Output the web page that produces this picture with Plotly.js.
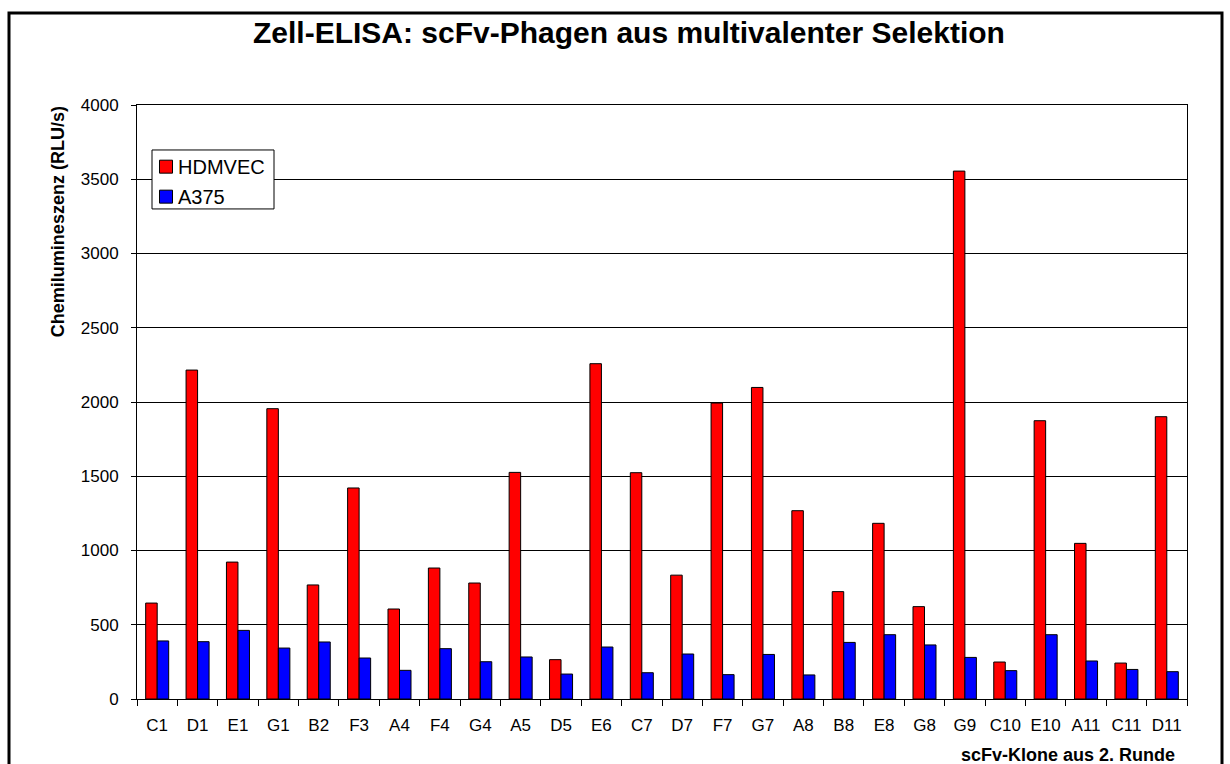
<!DOCTYPE html>
<html>
<head>
<meta charset="utf-8">
<script src="https://cdn.plot.ly/plotly-3.0.1.min.js"></script>
<style>
  html, body { margin: 0; padding: 0; background: #ffffff; }
  #chart { width: 1230px; height: 764px; }
</style>
</head>
<body>
<div id="chart"></div>
<script>
// ---- data ----
const clones = ["C1","D1","E1","G1","B2","F3","A4","F4","G4","A5","D5","E6","C7","D7","F7","G7","A8","B8","E8","G8","G9","C10","E10","A11","C11","D11"];
const hdmvec = [646,2215,922,1955,768,1421,606,882,781,1526,265,2258,1524,834,1993,2098,1268,723,1183,622,3555,249,1874,1048,242,1901];
const a375   = [391,386,462,343,384,276,193,339,251,283,168,350,177,303,164,300,162,381,433,364,280,191,433,256,199,184];
const yTicks = [0,500,1000,1500,2000,2500,3000,3500,4000];

const seriesNames = ["HDMVEC","A375"];
const seriesColors = ["#FF0000","#0000FF"];
const chartTitle = "Zell-ELISA: scFv-Phagen aus multivalenter Selektion";
const yTitle = "Chemilumineszenz (RLU/s)";
const xTitle = "scFv-Klone aus 2. Runde";

// ---- layout geometry ----
const W = 1230, H = 764;
const L = 137, R = 1187, T = 105, B = 699.3;
const pw = R - L, ph = B - T;
const px = x => (x - L) / pw;
const py = y => (B - y) / ph;
const FONT = "Liberation Sans, Arial, Helvetica, sans-serif";

const traces = [
  { type: "bar", name: seriesNames[0], x: clones, y: hdmvec, showlegend: false,
    marker: { color: seriesColors[0], line: { color: "#000000", width: 1 } } },
  { type: "bar", name: seriesNames[1], x: clones, y: a375, showlegend: false,
    marker: { color: seriesColors[1], line: { color: "#000000", width: 1 } } }
];

// manual legend (box, swatches, labels)
const legBox = { x0: 152, x1: 274, y0: 150, y1: 209 };
const rowY = [166.7, 196.7];
const shapes = [
  { type: "rect", xref: "paper", yref: "paper", layer: "below",
    x0: px(9), x1: px(1222), y0: py(790), y1: py(13),
    line: { color: "#000000", width: 3 }, fillcolor: "rgba(0,0,0,0)" },
  { type: "rect", xref: "paper", yref: "paper", layer: "above",
    x0: px(legBox.x0), x1: px(legBox.x1), y0: py(legBox.y1), y1: py(legBox.y0),
    line: { color: "#000000", width: 1 }, fillcolor: "#ffffff" }
];
const annotations = [
  { text: "<b>" + chartTitle + "</b>", xref: "paper", yref: "paper",
    x: px(629), y: py(32.5), xanchor: "center", yanchor: "middle", showarrow: false,
    font: { family: FONT, size: 30, color: "#000000" } },
  { text: "<b>" + yTitle + "</b>", xref: "paper", yref: "paper",
    x: px(57.5), y: py(221.7), xanchor: "center", yanchor: "middle", textangle: -90, showarrow: false,
    font: { family: FONT, size: 18, color: "#000000" } },
  { text: "<b>" + xTitle + "</b>", xref: "paper", yref: "paper",
    x: px(1177), y: py(755), xanchor: "right", yanchor: "middle", showarrow: false,
    font: { family: FONT, size: 18, color: "#000000" } }
];
seriesNames.forEach((nm, i) => {
  shapes.push({ type: "rect", xref: "paper", yref: "paper", layer: "above",
    x0: px(159.5), x1: px(172.5), y0: py(rowY[i] + 6.5), y1: py(rowY[i] - 6.5),
    line: { color: "#000000", width: 1 }, fillcolor: seriesColors[i] });
  annotations.push({ text: nm, xref: "paper", yref: "paper",
    x: px(176), y: py(rowY[i]), xanchor: "left", yanchor: "middle", showarrow: false,
    font: { family: FONT, size: 20, color: "#000000" } });
});

const layout = {
  width: W, height: H,
  paper_bgcolor: "#ffffff", plot_bgcolor: "#ffffff",
  margin: { l: L, r: W - R, t: T, b: H - B, pad: 0 },
  font: { family: FONT, color: "#000000", size: 16 },
  barmode: "group", bargap: 0.43, bargroupgap: 0,
  showlegend: false,
  xaxis: {
    type: "category", categoryorder: "array", categoryarray: clones,
    showline: true, linecolor: "#000000", linewidth: 1, mirror: true,
    ticks: "outside", tickson: "boundaries", ticklen: 6, tickcolor: "#000000", tickwidth: 1,
    tickfont: { family: FONT, size: 17, color: "#000000" },
    ticklabelstandoff: 11,
    showgrid: false, zeroline: false, fixedrange: true
  },
  yaxis: {
    range: [0, 4000], tickvals: yTicks, ticktext: yTicks.map(String),
    showline: true, linecolor: "#000000", linewidth: 1, mirror: true,
    ticks: "outside", ticklen: 5, tickcolor: "#000000", tickwidth: 1,
    tickfont: { family: FONT, size: 17, color: "#000000" },
    ticklabelstandoff: 9,
    showgrid: true, gridcolor: "#000000", gridwidth: 1,
    zeroline: false, fixedrange: true
  },
  annotations: annotations,
  shapes: shapes
};

Plotly.newPlot("chart", traces, layout, { displayModeBar: false, staticPlot: true });
</script>
</body>
</html>
